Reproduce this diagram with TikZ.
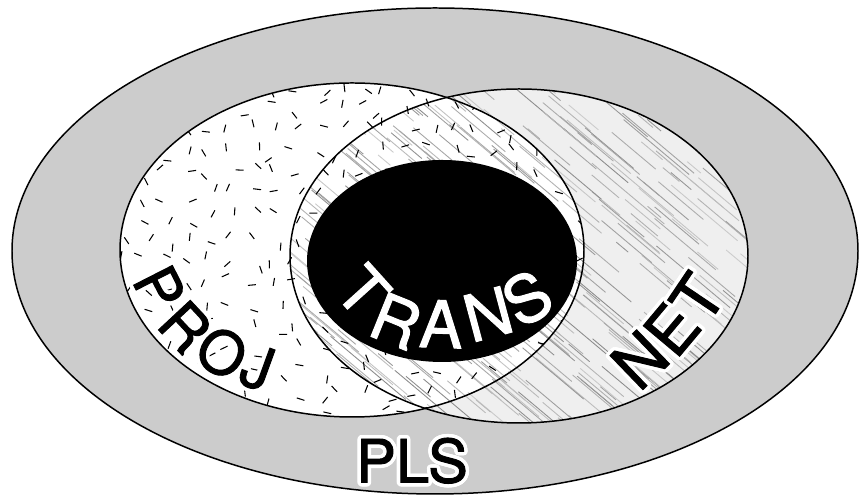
\documentclass[tikz,border=0pt]{standalone}
\usepackage{fontspec}
\setmainfont{TeX Gyre Heros}
\newfontfamily\heavyfamily[FakeBold=1.5]{TeX Gyre Heros}
\usepackage[copies]{contour}
\contourlength{2pt}
\contournumber{24}
\definecolor{plsgray}{RGB}{204,204,204}
\definecolor{netgray}{RGB}{239,239,239}
\tikzset{
  setline/.style={draw=black,line width=0.85pt},
  dashmark/.style={black,line width=0.6pt},
  streak/.style={line width=0.5pt},
  setletter/.style={font=\heavyfamily\fontsize{34}{40}\selectfont,inner sep=0pt},
  bigletter/.style={font=\heavyfamily\fontsize{37}{44}\selectfont,inner sep=0pt}
}

\begin{document}
\begin{tikzpicture}[x=0.02cm,y=0.02cm]
\useasboundingbox (0,0) rectangle (860,496);
% Centres of the sets
\coordinate (plsc) at (435,245);
\coordinate (projc) at (352,246);
\coordinate (netc) at (519,240);
\coordinate (transc) at (442,235);
% Outer set PLS
\filldraw[fill=plsgray,setline] (plsc) ellipse[x radius=423,y radius=243];
% NET and PROJ backgrounds (lens stays white)
\fill[netgray] (netc) ellipse[x radius=229,y radius=167];
\fill[white] (projc) ellipse[x radius=232,y radius=167];
% Streaks inside NET
\begin{scope}
  \clip (netc) ellipse[x radius=229,y radius=167];
  \pgfmathsetseed{11}
  \foreach \k in {1,...,480}{
    \pgfmathsetmacro\hx{250+rnd*520}
    \pgfmathsetmacro\hy{60+rnd*400}
    \pgfmathsetmacro\hl{15+rnd*85}
    \pgfmathtruncatemacro\hs{20+rnd*26}
    \draw[streak,black!\hs] (\hx,\hy) -- ++(-40:\hl);
  }
\end{scope}
% Dashes inside PROJ
\begin{scope}
  \clip (projc) ellipse[x radius=232,y radius=167];
  \pgfmathsetseed{5}
  \foreach \i in {0,...,21}{
    \foreach \j in {0,...,15}{
      \pgfmathsetmacro\dx{121+22*\i+9*rand}
      \pgfmathsetmacro\dy{80+22*\j+9*rand}
      \pgfmathsetmacro\da{180*rnd}
      \draw[dashmark] (\dx,\dy) ++(\da:-4) -- ++(\da:8);
    }
  }
\end{scope}
% Outlines
\draw[setline] (projc) ellipse[x radius=232,y radius=167];
\draw[setline] (netc) ellipse[x radius=229,y radius=167];
% TRANS core
\fill[black] (transc) ellipse[x radius=135,y radius=101];
% Labels, one letter at a time along the rims
\foreach \ch/\x/\y/\r in {P/158/207/-63,R/184/168/-47,O/221/142/-32,J/257/127/-20}
  \node[setletter,rotate=\r] (proj\ch) at (\x,\y) {\contour{white}{\ch}};
\foreach \ch/\x/\y/\r in {N/641/135/44,E/673/166/50,T/699/197/56}
  \node[bigletter,rotate=\r] (net\ch) at (\x,\y) {\contour{white}{\ch}};
\foreach \ch/\x/\y/\r in {T/363/205/-48,R/396/175/-22,A/441/172/-2,N/488/182/15,S/527/198/31}
  \node[bigletter,white,rotate=\r] (trans\ch) at (\x,\y) {\ch};
\node[setletter] (plslabel) at (412,33.5) {\contour{white}{PLS}};
\end{tikzpicture}
\end{document}
